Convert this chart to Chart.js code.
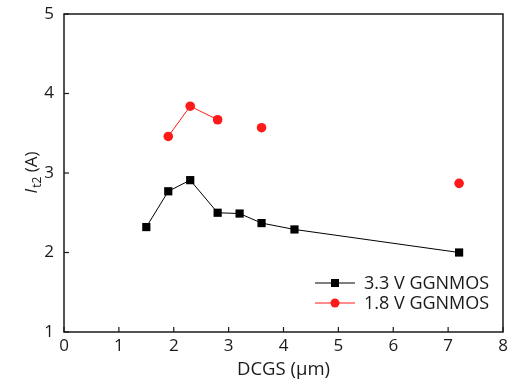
<!DOCTYPE html>
<html>
<head>
<meta charset="utf-8">
<script src="https://cdn.jsdelivr.net/npm/chart.js@4"></script>
<style>
  html, body { margin: 0; padding: 0; background: #fff; }
  #wrap { width: 512px; height: 383px; }
</style>
</head>
<body>
<div id="wrap"><canvas id="plot"></canvas></div>
<script>
// data
const dcgs33 = [1.5, 1.9, 2.3, 2.8, 3.2, 3.6, 4.2, 7.2];
const it2_33 = [2.32, 2.77, 2.91, 2.50, 2.49, 2.37, 2.29, 2.00];
const dcgs18 = [1.9, 2.3, 2.8, 3.6, 7.2];
const it2_18 = [3.46, 3.84, 3.67, 3.57, 2.87];
const linked18 = 3; // only the first three red points are joined

const xTicks = [0, 1, 2, 3, 4, 5, 6, 7, 8];
const yTicks = [1, 2, 3, 4, 5];
const seriesNames = ['3.3 V GGNMOS', '1.8 V GGNMOS'];

const FONT = "'Open Sans', 'Noto Sans', sans-serif";
const AXIS = '#1a1a1a';

// frame, inward ticks, axis titles, legend
const decor = {
    id: 'decor',
    afterDraw(chart) {
        const c = chart.ctx;
        const a = chart.chartArea;
        const sx = chart.scales.x, sy = chart.scales.y;
        c.save();
        c.strokeStyle = AXIS;
        c.lineWidth = 1.5;
        c.strokeRect(a.left, a.top, a.right - a.left, a.bottom - a.top);

        c.lineWidth = 1.2;
        xTicks.forEach(v => {
            const px = sx.getPixelForValue(v);
            c.beginPath(); c.moveTo(px, a.bottom); c.lineTo(px, a.bottom - 5); c.stroke();
        });
        yTicks.forEach(v => {
            const py = sy.getPixelForValue(v);
            c.beginPath(); c.moveTo(a.left, py); c.lineTo(a.left + 5, py); c.stroke();
        });

        // x title
        c.fillStyle = AXIS;
        c.font = `18.5px ${FONT}`;
        c.textAlign = 'center';
        c.textBaseline = 'middle';
        c.fillText('DCGS (μm)', (a.left + a.right) / 2, 370);

        // y title: I (italic) + subscript t2 + " (A)"
        c.save();
        c.translate(31, 173);
        c.rotate(-Math.PI / 2);
        const p1 = 'I', p2 = 't2', p3 = ' (A)';
        c.font = `italic 17px ${FONT}`; const w1 = c.measureText(p1).width;
        c.font = `12px ${FONT}`; const w2 = c.measureText(p2).width;
        c.font = `17px ${FONT}`; const w3 = c.measureText(p3).width;
        let x0 = -(w1 + w2 + w3) / 2;
        c.textAlign = 'left';
        c.textBaseline = 'alphabetic';
        c.font = `italic 17px ${FONT}`; c.fillText(p1, x0, 6); x0 += w1 + 1;
        c.font = `12px ${FONT}`; c.fillText(p2, x0, 10); x0 += w2;
        c.font = `17px ${FONT}`; c.fillText(p3, x0, 6);
        c.restore();

        // legend
        const ds = chart.data.datasets;
        const lx = a.right - 188, ly = a.bottom - 49;
        ds.forEach((d, i) => {
            const y = ly + i * 20;
            c.strokeStyle = d.borderColor;
            c.lineWidth = 1;
            c.beginPath(); c.moveTo(lx, y); c.lineTo(lx + 40, y); c.stroke();
            c.fillStyle = d.pointBackgroundColor;
            if (d.pointStyle === 'rect') {
                c.fillRect(lx + 20 - 4, y - 4, 8, 8);
            } else {
                c.beginPath(); c.arc(lx + 20, y, 4.5, 0, Math.PI * 2); c.fill();
            }
            c.fillStyle = AXIS;
            c.font = `18px ${FONT}`;
            c.textAlign = 'left';
            c.textBaseline = 'middle';
            c.fillText(seriesNames[i], lx + 49, y + 1);
        });
        c.restore();
    }
};

new Chart(document.getElementById('plot'), {
    type: 'line',
    data: {
        datasets: [
            {
                label: seriesNames[0],
                data: dcgs33.map((x, i) => ({ x, y: it2_33[i] })),
                borderColor: '#000',
                borderWidth: 1,
                pointStyle: 'rect',
                pointRadius: 5.8,
                pointBackgroundColor: '#000',
                pointBorderColor: '#000',
                pointBorderWidth: 0
            },
            {
                label: seriesNames[1],
                data: dcgs18.map((x, i) => ({ x, y: it2_18[i] })),
                borderColor: '#ff1a1a',
                borderWidth: 1,
                pointStyle: 'circle',
                pointRadius: 4.8,
                pointBackgroundColor: '#ff1a1a',
                pointBorderColor: '#ff1a1a',
                pointBorderWidth: 0,
                segment: {
                    borderColor: ctx => ctx.p1DataIndex < linked18 ? '#ff1a1a' : 'transparent'
                }
            }
        ]
    },
    options: {
        responsive: true,
        maintainAspectRatio: false,
        animation: false,
        layout: { padding: { left: 0, right: 9, top: 14, bottom: 0 } },
        plugins: {
            legend: { display: false },
            tooltip: { enabled: false }
        },
        scales: {
            x: {
                type: 'linear',
                min: 0, max: 8,
                afterBuildTicks: s => { s.ticks = xTicks.map(v => ({ value: v })); },
                afterFit: s => { s.height = 51; s.paddingLeft = 0; s.paddingRight = 0; },
                grid: { display: false, drawTicks: false },
                border: { display: false },
                ticks: { color: AXIS, font: { family: FONT, size: 17 }, padding: 4 }
            },
            y: {
                type: 'linear',
                min: 1, max: 5,
                afterBuildTicks: s => { s.ticks = yTicks.map(v => ({ value: v })); },
                afterFit: s => { s.width = 64; s.paddingTop = 0; s.paddingBottom = 0; },
                grid: { display: false, drawTicks: false },
                border: { display: false },
                ticks: { color: AXIS, font: { family: FONT, size: 17 }, padding: 10 }
            }
        }
    },
    plugins: [decor]
});
</script>
</body>
</html>
